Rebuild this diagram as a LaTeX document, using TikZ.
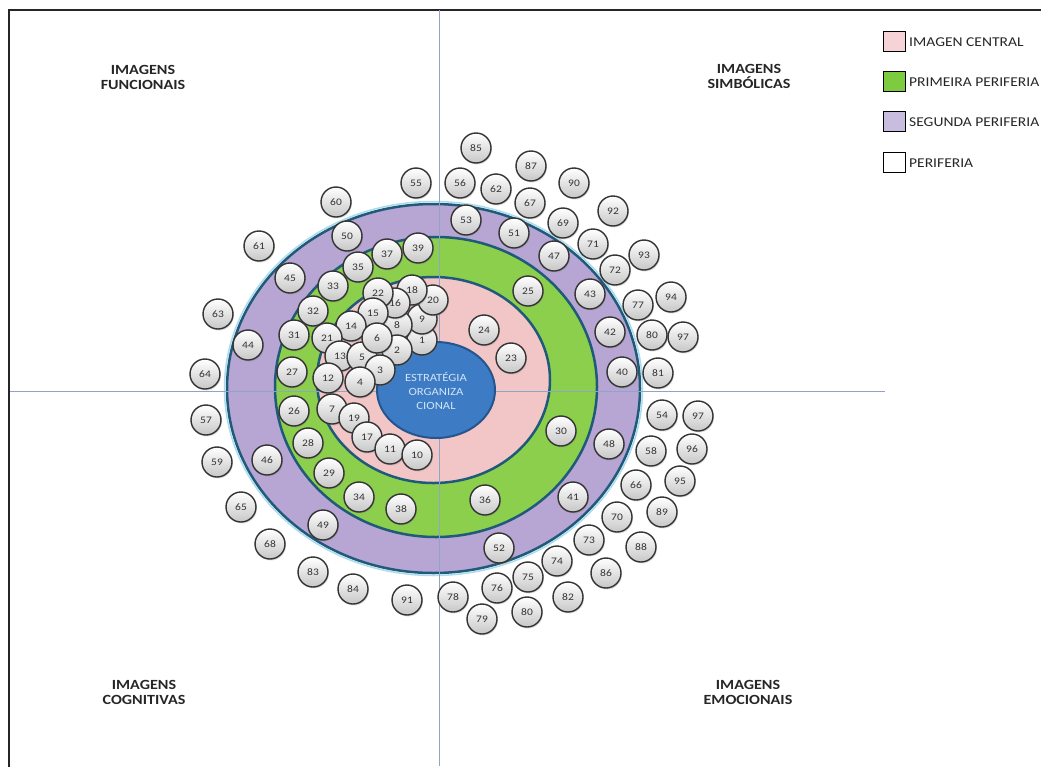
\documentclass[tikz,border=0pt]{standalone}
\usepackage{fontspec}
\setmainfont{Carlito}
\newfontfamily\widefont[FakeStretch=1.15]{Carlito}
\usetikzlibrary{shadows}

\definecolor{ringline}{HTML}{1F5A7A}
\definecolor{pinkfill}{HTML}{F2C6C6}
\definecolor{greenfill}{HTML}{8CCF4D}
\definecolor{purplefill}{HTML}{B7A5D3}
\definecolor{corefill}{HTML}{3D7CC4}
\definecolor{coreline}{HTML}{24558F}
\definecolor{coretext}{HTML}{D2E3F6}
\definecolor{axisline}{HTML}{8DA6C6}
\definecolor{glow}{HTML}{A9DDEE}
\definecolor{legpink}{HTML}{F5D3D6}
\definecolor{leggreen}{HTML}{7DCB3E}
\definecolor{legpurple}{HTML}{C8BCDF}

\begin{document}
\begin{tikzpicture}[x=1pt,y=-1pt,
  ball/.style={circle, minimum size=30pt, inner sep=0pt, draw=black!80,
    line width=1.4pt, top color=white, bottom color=black!22,
    font=\widefont\fontsize{10}{10}\selectfont, text=black!80,
    drop shadow={shadow xshift=1pt, shadow yshift=-1.5pt, opacity=0.25}},
  quadlabel/.style={align=center, font=\widefont\bfseries\fontsize{14}{15}\selectfont, text=black!85},
  legbox/.style={draw=black, line width=0.8pt, minimum width=22pt, minimum height=20pt, inner sep=0pt},
  legtext/.style={anchor=west, font=\widefont\fontsize{13.5}{13.5}\selectfont, text=black!85, inner sep=0pt}
]
\path[use as bounding box] (0,0) rectangle (1041,766);
\clip (0,0) rectangle (1041,766);

% outer frame (runs off the right and bottom edges)
\draw[line width=2pt, black!85] (9,790) -- (9,10) -- (1060,10);

% concentric rings
\draw[glow, line width=1.5pt] (433.5,388.5) ellipse [x radius=209, y radius=187];
\draw[ringline, line width=2.5pt, fill=purplefill] (433.5,388.5) ellipse [x radius=206.5, y radius=184.5];
\draw[ringline, line width=2.5pt, fill=greenfill] (436,387) ellipse [x radius=161, y radius=150];
\draw[ringline, line width=2.5pt, fill=pinkfill] (433.5,380) ellipse [x radius=116.5, y radius=103];

% quadrant axes
\draw[axisline, line width=1pt] (439,10) -- (439,766);
\draw[axisline, line width=1pt] (10,391) -- (885,391);

% core
\draw[coreline, line width=2pt, fill=corefill] (436,390) ellipse [x radius=59, y radius=48];
\node[align=center, text=coretext, font=\widefont\fontsize{11}{14}\selectfont] (core) at (436,391)
  {ESTRATÉGIA\\ORGANIZA\\CIONAL};

% numbered items
\foreach \lab/\px/\py [count=\k] in {
  24/484/330, 23/511/358,
  1/422/340, 9/422/319, 20/433/300, 18/412/290, 8/397/325, 16/395/303, 22/378/293,
  15/373/313, 14/351/326, 21/327/338, 13/340/356, 5/362/357, 2/397/350, 6/377/338,
  3/380/370, 4/360/382, 12/328/378, 7/332/409, 19/354/418, 17/367/437, 11/390/449, 10/417/455,
  25/528/291, 26/294/411, 27/292/372, 28/308/443, 29/329/473, 30/561/431, 31/294/335,
  32/313/311, 33/333/286, 34/359/497, 35/358/267, 36/485/500, 37/387/254, 38/401/509, 39/418/248,
  40/622/372, 41/573/497, 42/610/332, 43/590/294, 44/248/345, 45/290/278, 46/267/460,
  47/554/256, 48/609/444, 49/323/525, 50/347/236, 51/514/233, 52/499/548, 53/466/220,
  54/662/415, 55/416/183, 56/460/183, 57/206/420, 58/651/451, 59/217/462, 60/336/202,
  61/259/246, 62/496/189, 63/218/314, 64/205/374, 65/241/507, 66/636/485, 67/530/203,
  68/270/544, 69/563/223, 70/617/517, 71/593/244, 72/615/270, 73/589/540, 74/557/561,
  75/528/577, 76/497/588, 77/638/305, 78/453/597, 79/482/619, 80/527/612, 80/652/335,
  81/658/373, 82/568/597, 83/313/572, 84/353/589, 85/476/148, 86/606/573, 87/531/166,
  88/641/547, 89/662/512, 90/574/183, 91/407/600, 92/613/211, 93/644/255, 94/671/297,
  95/680/481, 96/692/449, 97/683/337, 97/698/416}
  \node[ball] (item\k) at (\px,\py) {\lab};

% quadrant titles
\node[quadlabel] (qf) at (143,77) {IMAGENS\\FUNCIONAIS};
\node[quadlabel] (qs) at (749,76) {IMAGENS\\SIMBÓLICAS};
\node[quadlabel] (qc) at (144,692) {IMAGENS\\COGNITIVAS};
\node[quadlabel] (qe) at (748,692) {IMAGENS\\EMOCIONAIS};

% legend
\node[legbox, fill=legpink]   (lb1) at (894,41)  {};
\node[legbox, fill=leggreen]  (lb2) at (894,81)  {};
\node[legbox, fill=legpurple] (lb3) at (894,121) {};
\node[legbox, fill=white]     (lb4) at (894,162) {};
\node[legtext] (lt1) at (909,42)  {IMAGEN CENTRAL};
\node[legtext] (lt2) at (909,82)  {PRIMEIRA PERIFERIA};
\node[legtext] (lt3) at (909,122) {SEGUNDA PERIFERIA};
\node[legtext] (lt4) at (909,163) {PERIFERIA};
\end{tikzpicture}
\end{document}
